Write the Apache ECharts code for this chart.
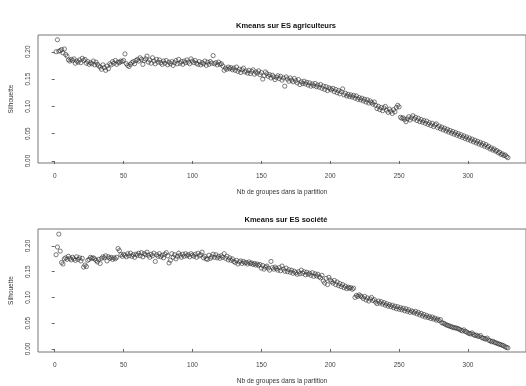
<!DOCTYPE html>
<html>
<head>
<meta charset="utf-8">
<script src="https://cdn.jsdelivr.net/npm/echarts@6/dist/echarts.min.js"></script>
<style>html,body{margin:0;padding:0;background:#fff}#c{width:526px;height:386px}</style>
</head>
<body>
<div id="c"></div>
<script>
const titles = ["Kmeans sur ES agriculteurs", "Kmeans sur ES société"];
const xName = "Nb de groupes dans la partition";
const yName = "Silhouette";
const xTicks = [0, 50, 100, 150, 200, 250, 300];
const yTicks = [0, 0.05, 0.10, 0.15, 0.20];

const agriculteurs = [
0.200,0.222,0.201,0.202,0.204,0.198,0.205,0.195,0.192,0.185,
0.183,0.186,0.184,0.187,0.179,0.183,0.181,0.185,0.180,0.188,
0.184,0.186,0.179,0.182,0.177,0.180,0.178,0.183,0.176,0.181,
0.177,0.174,0.172,0.168,0.176,0.171,0.166,0.174,0.169,0.178,
0.176,0.182,0.179,0.184,0.177,0.181,0.180,0.183,0.182,0.184,
0.196,0.178,0.175,0.173,0.177,0.180,0.182,0.178,0.184,0.186,
0.183,0.189,0.186,0.177,0.184,0.187,0.192,0.181,0.185,0.179,
0.189,0.183,0.178,0.186,0.181,0.185,0.180,0.177,0.183,0.179,
0.184,0.176,0.181,0.178,0.182,0.175,0.180,0.184,0.178,0.186,
0.179,0.182,0.177,0.183,0.180,0.185,0.181,0.178,0.187,0.183,
0.180,0.184,0.179,0.177,0.182,0.176,0.180,0.178,0.183,0.175,
0.181,0.177,0.182,0.179,0.193,0.178,0.180,0.176,0.181,0.177,
0.178,0.174,0.166,0.170,0.168,0.172,0.169,0.171,0.167,0.170,
0.166,0.172,0.164,0.168,0.162,0.167,0.170,0.163,0.165,0.161,
0.166,0.160,0.164,0.167,0.159,0.163,0.161,0.165,0.158,0.162,
0.150,0.156,0.163,0.160,0.155,0.158,0.152,0.157,0.154,0.149,
0.153,0.156,0.151,0.155,0.148,0.152,0.137,0.154,0.150,0.146,
0.152,0.148,0.145,0.151,0.147,0.143,0.149,0.140,0.145,0.142,
0.146,0.141,0.144,0.139,0.143,0.137,0.141,0.138,0.142,0.136,
0.139,0.135,0.140,0.133,0.137,0.131,0.136,0.129,0.134,0.132,
0.130,0.133,0.127,0.131,0.125,0.129,0.123,0.127,0.132,0.121,
0.124,0.119,0.122,0.118,0.121,0.117,0.120,0.115,0.119,0.113,
0.116,0.112,0.115,0.110,0.113,0.108,0.112,0.106,0.110,0.107,
0.104,0.108,0.102,0.096,0.100,0.094,0.098,0.092,0.097,0.100,
0.093,0.089,0.095,0.091,0.087,0.094,0.090,0.098,0.102,0.099,
0.080,0.078,0.079,0.076,0.072,0.077,0.081,0.075,0.079,0.083,
0.077,0.080,0.074,0.078,0.072,0.076,0.071,0.074,0.069,0.073,
0.067,0.070,0.065,0.069,0.063,0.066,0.068,0.061,0.064,0.059,
0.062,0.057,0.060,0.055,0.058,0.053,0.056,0.051,0.054,0.049,
0.052,0.047,0.050,0.045,0.048,0.043,0.046,0.041,0.044,0.039,
0.042,0.037,0.040,0.035,0.038,0.033,0.036,0.031,0.034,0.029,
0.032,0.027,0.030,0.025,0.027,0.022,0.024,0.020,0.022,0.018,
0.019,0.015,0.016,0.012,0.013,0.010,0.011,0.008,0.006
];

const societe = [
0.183,0.198,0.223,0.190,0.168,0.165,0.175,0.177,0.174,0.180,
0.176,0.173,0.178,0.175,0.172,0.179,0.174,0.177,0.171,0.176,
0.159,0.163,0.160,0.172,0.174,0.178,0.176,0.177,0.175,0.172,
0.169,0.174,0.166,0.176,0.179,0.177,0.181,0.171,0.179,0.176,
0.178,0.174,0.177,0.175,0.178,0.195,0.191,0.183,0.180,0.184,
0.182,0.179,0.185,0.181,0.186,0.180,0.183,0.178,0.184,0.182,
0.186,0.181,0.187,0.179,0.185,0.183,0.188,0.182,0.178,0.184,
0.181,0.186,0.170,0.183,0.180,0.185,0.179,0.182,0.177,0.184,
0.187,0.181,0.167,0.172,0.185,0.178,0.183,0.175,0.180,0.186,
0.182,0.178,0.184,0.180,0.185,0.181,0.183,0.179,0.185,0.182,
0.180,0.184,0.178,0.186,0.181,0.183,0.188,0.177,0.180,0.175,
0.174,0.182,0.176,0.179,0.184,0.178,0.183,0.177,0.180,0.176,
0.181,0.178,0.185,0.176,0.180,0.173,0.177,0.172,0.175,0.170,
0.168,0.172,0.165,0.169,0.171,0.166,0.170,0.167,0.168,0.165,
0.169,0.166,0.167,0.164,0.166,0.163,0.165,0.162,0.164,0.157,
0.162,0.155,0.159,0.161,0.157,0.153,0.170,0.158,0.155,0.159,
0.156,0.153,0.158,0.152,0.161,0.155,0.151,0.157,0.150,0.154,
0.149,0.153,0.147,0.151,0.148,0.145,0.150,0.146,0.153,0.147,
0.150,0.144,0.149,0.145,0.147,0.143,0.148,0.141,0.146,0.142,
0.145,0.140,0.138,0.143,0.132,0.128,0.137,0.125,0.139,0.134,
0.131,0.128,0.133,0.125,0.130,0.123,0.127,0.121,0.125,0.119,
0.122,0.117,0.120,0.118,0.119,0.116,0.118,0.100,0.104,0.102,
0.105,0.103,0.101,0.098,0.102,0.095,0.099,0.093,0.097,0.100,
0.094,0.096,0.091,0.088,0.093,0.089,0.092,0.087,0.090,0.085,
0.088,0.083,0.086,0.082,0.085,0.080,0.083,0.078,0.082,0.077,
0.080,0.076,0.079,0.074,0.078,0.073,0.076,0.071,0.074,0.072,
0.070,0.073,0.068,0.071,0.066,0.069,0.064,0.067,0.062,0.065,
0.061,0.063,0.059,0.062,0.058,0.060,0.056,0.058,0.055,0.057,
0.051,0.050,0.049,0.047,0.046,0.045,0.044,0.043,0.042,0.041,
0.041,0.040,0.039,0.038,0.036,0.035,0.037,0.034,0.033,0.031,
0.030,0.029,0.031,0.028,0.026,0.027,0.025,0.024,0.026,0.022,
0.021,0.020,0.019,0.021,0.017,0.016,0.014,0.015,0.013,0.012,
0.011,0.010,0.009,0.008,0.007,0.006,0.004,0.003,0.002
];

const toPairs = arr => arr.map((v, i) => [i + 1, v]);
const FONT = "Liberation Sans";
const axisColor = "#666";

function xAxisCfg(gi) {
  return {
    gridIndex: gi, type: 'value', min: -12.12, max: 342.12,
    name: xName, nameLocation: 'middle', nameGap: 26,
    nameTextStyle: { fontFamily: FONT, fontSize: 6.5, color: '#333' },
    axisLine: { show: false },
    splitLine: { show: false },
    axisTick: { show: true, length: 3, customValues: xTicks, lineStyle: { color: axisColor } },
    axisLabel: { customValues: xTicks, margin: 10, fontFamily: FONT, fontSize: 6.5, color: '#444' }
  };
}
function yAxisCfg(gi, min, max) {
  return {
    gridIndex: gi, type: 'value', min: min, max: max,
    name: yName, nameLocation: 'middle', nameGap: 23, nameRotate: 90,
    nameTextStyle: { fontFamily: FONT, fontSize: 6.5, color: '#333' },
    axisLine: { show: false },
    splitLine: { show: false },
    axisTick: { show: true, length: 3, customValues: yTicks, lineStyle: { color: axisColor } },
    axisLabel: { customValues: yTicks, rotate: 90, margin: 6, fontFamily: FONT, fontSize: 6.5, color: '#444',
      formatter: v => v.toFixed(2) }
  };
}

const chart = echarts.init(document.getElementById('c'), null, { renderer: 'canvas' });
chart.setOption({
  animation: false,
  backgroundColor: '#fff',
  title: [
    { text: titles[0], left: 281, top: 17, textAlign: 'center',
      textStyle: { fontFamily: FONT, fontSize: 7.5, fontWeight: 'bold', color: '#111' } },
    { text: titles[1], left: 281, top: 211, textAlign: 'center',
      textStyle: { fontFamily: FONT, fontSize: 7.5, fontWeight: 'bold', color: '#111' } }
  ],
  grid: [
    { left: 36, top: 35, width: 491.5, height: 128, show: true, borderColor: '#777', borderWidth: 1, backgroundColor: 'transparent' },
    { left: 36, top: 229, width: 491.5, height: 128, show: true, borderColor: '#777', borderWidth: 1, backgroundColor: 'transparent' }
  ],
  xAxis: [xAxisCfg(0), xAxisCfg(1)],
  yAxis: [yAxisCfg(0, -0.0037, 0.2307), yAxisCfg(1, -0.006, 0.233)],
  series: [
    { type: 'scatter', xAxisIndex: 0, yAxisIndex: 0, data: toPairs(agriculteurs),
      symbol: 'circle', symbolSize: 4.2,
      itemStyle: { color: 'rgba(255,255,255,0)', borderColor: '#333', borderWidth: 0.8 } },
    { type: 'scatter', xAxisIndex: 1, yAxisIndex: 1, data: toPairs(societe),
      symbol: 'circle', symbolSize: 4.2,
      itemStyle: { color: 'rgba(255,255,255,0)', borderColor: '#333', borderWidth: 0.8 } }
  ]
});
</script>
</body>
</html>
